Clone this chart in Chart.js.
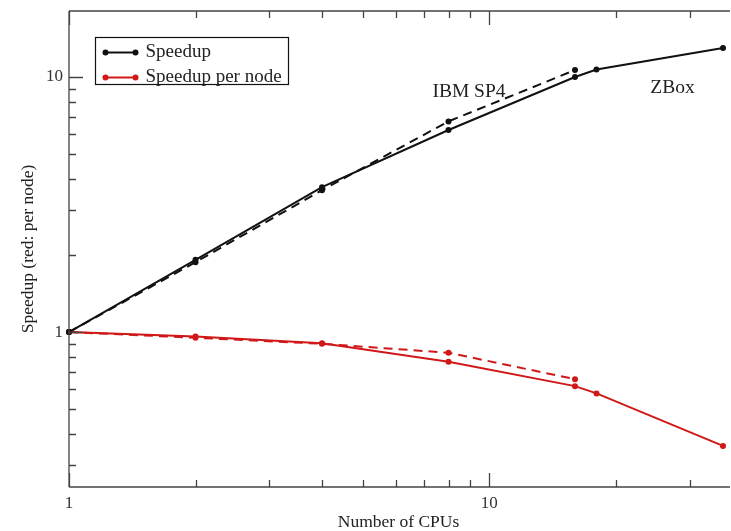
<!DOCTYPE html>
<html><head><meta charset="utf-8">
<script src="https://cdn.jsdelivr.net/npm/chart.js@4/dist/chart.umd.min.js"></script>
<style>html,body{margin:0;padding:0;background:#fff;overflow:hidden}#wrap{width:731px;height:531px;position:relative}</style>
</head><body><div id="wrap"><canvas id="c"></canvas></div>
<script>
// ---- data ----
const zboxCpus = [1, 2, 4, 8, 16, 18, 36];
const zboxSpeedup = [1, 1.92, 3.7, 6.2, 10.0, 10.7, 13.0];
const zboxPerNode = [1, 0.96, 0.905, 0.765, 0.614, 0.575, 0.358];
const sp4Cpus = [1, 2, 4, 8, 16];
const sp4Speedup = [1, 1.88, 3.6, 6.7, 10.65];
const sp4PerNode = [1, 0.95, 0.9, 0.83, 0.654];
const xMajorTicks = [1, 10];
const xMinorTicks = [2, 3, 4, 5, 6, 7, 8, 9, 20, 30];
const yMajorTicks = [1, 10];
const yMinorTicks = [0.3, 0.4, 0.5, 0.6, 0.7, 0.8, 0.9, 2, 3, 4, 5, 6, 7, 8, 9];
const legendLabels = ['Speedup', 'Speedup per node'];
const noteTexts = ['IBM SP4', 'ZBox'];
const noteX = [8.95, 27.3];
const noteY = [8.73, 9.06];
const xTitle = 'Number of CPUs';
const yTitle = 'Speedup (red: per node)';

const BLACK = '#111111';
const RED = '#d01818';
const FONT = "'Liberation Serif','DejaVu Serif',serif";
const pts = (xs, ys) => xs.map((x, i) => ({x: x, y: ys[i]}));

const frameTicks = {
  id: 'frameTicks',
  afterDatasetsDraw(chart) {
    const {ctx, chartArea: a, scales: {x, y}} = chart;
    ctx.save();
    ctx.strokeStyle = '#444';
    ctx.lineWidth = 1.3;
    ctx.beginPath();
    ctx.moveTo(a.left, a.top); ctx.lineTo(a.right + 2, a.top);
    ctx.moveTo(a.left, a.top); ctx.lineTo(a.left, a.bottom);
    ctx.moveTo(a.left, a.bottom); ctx.lineTo(a.right + 2, a.bottom);
    const tickX = (v, len) => {
      const p = Math.round(x.getPixelForValue(v)) + 0.5;
      ctx.moveTo(p, a.bottom); ctx.lineTo(p, a.bottom - len);
      ctx.moveTo(p, a.top); ctx.lineTo(p, a.top + len);
    };
    const tickY = (v, len) => {
      const p = Math.round(y.getPixelForValue(v)) + 0.5;
      ctx.moveTo(a.left, p); ctx.lineTo(a.left + len, p);
    };
    xMajorTicks.forEach(v => tickX(v, 14));
    xMinorTicks.forEach(v => tickX(v, 7));
    yMajorTicks.forEach(v => tickY(v, 14));
    yMinorTicks.forEach(v => tickY(v, 7));
    ctx.stroke();
    ctx.restore();
  },
  afterDraw(chart) {
    const {ctx, chartArea: a, scales: {x, y}} = chart;
    ctx.save();
    // annotations
    ctx.fillStyle = '#222';
    ctx.font = '19.5px ' + FONT;
    ctx.textAlign = 'center';
    ctx.textBaseline = 'middle';
    noteTexts.forEach((t, i) => ctx.fillText(t, x.getPixelForValue(noteX[i]), y.getPixelForValue(noteY[i])));
    // legend
    const lx = a.left + 26.5, ly = a.top + 26.5, lw = 193, lh = 47;
    ctx.fillStyle = '#fff';
    ctx.fillRect(lx, ly, lw, lh);
    ctx.strokeStyle = '#111';
    ctx.lineWidth = 1.2;
    ctx.strokeRect(lx, ly, lw, lh);
    const cols = [BLACK, RED];
    legendLabels.forEach((t, i) => {
      const yy = ly + 15 + i * 25;
      ctx.strokeStyle = cols[i];
      ctx.fillStyle = cols[i];
      ctx.lineWidth = 2;
      ctx.beginPath(); ctx.moveTo(lx + 10, yy); ctx.lineTo(lx + 40, yy); ctx.stroke();
      [lx + 10, lx + 40].forEach(px => { ctx.beginPath(); ctx.arc(px, yy, 3, 0, Math.PI * 2); ctx.fill(); });
      ctx.fillStyle = '#222';
      ctx.font = '19px ' + FONT;
      ctx.textAlign = 'left';
      ctx.textBaseline = 'middle';
      ctx.fillText(t, lx + 50, yy);
    });
    ctx.restore();
  }
};

const ds = (label, data, color, dashed) => ({
  label, data, borderColor: color, backgroundColor: color,
  borderWidth: 2, borderDash: dashed ? [9, 6] : [],
  pointRadius: 3, pointHoverRadius: 3, pointBorderWidth: 0,
  showLine: true, clip: false, tension: 0
});

new Chart(document.getElementById('c'), {
  type: 'scatter',
  data: {
    datasets: [
      ds('ZBox speedup', pts(zboxCpus, zboxSpeedup), BLACK, false),
      ds('IBM SP4 speedup', pts(sp4Cpus, sp4Speedup), BLACK, true),
      ds('ZBox speedup per node', pts(zboxCpus, zboxPerNode), RED, false),
      ds('IBM SP4 speedup per node', pts(sp4Cpus, sp4PerNode), RED, true)
    ]
  },
  options: {
    responsive: true, maintainAspectRatio: false, animation: false,
    layout: {padding: {top: 11, right: 0, left: 0, bottom: 0}},
    plugins: {legend: {display: false}, tooltip: {enabled: false}},
    scales: {
      x: {
        type: 'logarithmic', min: 1, max: 37,
        grid: {display: false, drawTicks: false}, border: {display: false},
        afterBuildTicks: s => { s.ticks = xMajorTicks.map(v => ({value: v})); },
        afterFit: s => { s.height = 44; s.paddingLeft = 0; s.paddingRight = 0; },
        ticks: {color: '#333', font: {family: FONT, size: 17}, padding: 6, maxRotation: 0,
                callback: v => String(v)},
        title: {display: true, text: xTitle, color: '#222', font: {family: FONT, size: 17.5}, padding: {top: 0, bottom: -2}}
      },
      y: {
        type: 'logarithmic', min: 0.247, max: 18.15,
        grid: {display: false, drawTicks: false}, border: {display: false},
        afterBuildTicks: s => { s.ticks = yMajorTicks.map(v => ({value: v})); },
        afterFit: s => { s.width = 69; s.paddingTop = 0; s.paddingBottom = 0; },
        ticks: {color: '#333', font: {family: FONT, size: 17}, padding: 6,
                callback: v => String(v)},
        title: {display: true, text: yTitle, color: '#222', font: {family: FONT, size: 17.5}, padding: {top: 18, bottom: 0}}
      }
    }
  },
  plugins: [frameTicks]
});
</script>
</body></html>
